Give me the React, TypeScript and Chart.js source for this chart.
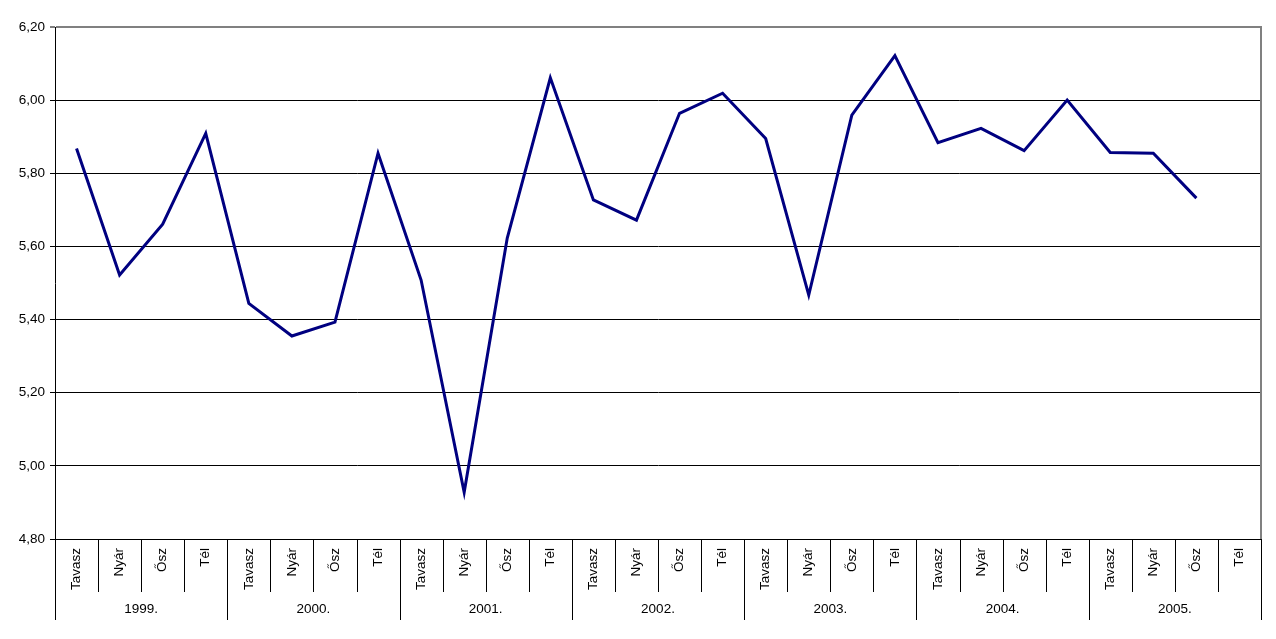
import React, { useEffect, useRef } from "react";
import { Chart, registerables } from "chart.js";

Chart.register(...registerables);

const seasons = ["Tavasz", "Nyár", "Ősz", "Tél"];
const years = ["1999.", "2000.", "2001.", "2002.", "2003.", "2004.", "2005."];
const values: (number | null)[] = [
  5.868, 5.522, 5.661, 5.909,
  5.444, 5.355, 5.393, 5.855,
  5.508, 4.928, 5.623, 6.061,
  5.727, 5.672, 5.964, 6.019,
  5.895, 5.467, 5.959, 6.122,
  5.884, 5.923, 5.862, 6.0,
  5.857, 5.855, 5.732, null,
];
const yMin = 4.8;
const yMax = 6.2;
const yStep = 0.2;

const categories: string[] = [];
years.forEach(() => seasons.forEach((s) => categories.push(s)));

const FONT = "'Liberation Sans', Arial, sans-serif";

const separatorPlugin = {
  id: "separators",
  afterDraw(chart: any) {
    const xs = chart.scales.x;
    const x2 = chart.scales.x2;
    const { ctx, chartArea } = chart;
    const step = xs.getPixelForValue(1) - xs.getPixelForValue(0);
    const start = xs.getPixelForValue(0) - step / 2;
    ctx.save();
    ctx.strokeStyle = "#000";
    ctx.lineWidth = 1;
    for (let i = 0; i <= categories.length; i++) {
      const x = Math.round(start + i * step) + 0.5;
      const long = i % seasons.length === 0;
      ctx.beginPath();
      ctx.moveTo(x, xs.top);
      ctx.lineTo(x, long ? x2.bottom : xs.bottom);
      ctx.stroke();
    }
    ctx.strokeStyle = "#808080";
    ctx.lineWidth = 2;
    const rx = Math.round(chartArea.right);
    ctx.beginPath();
    ctx.moveTo(rx, chartArea.top - 1);
    ctx.lineTo(rx, chartArea.bottom);
    ctx.stroke();
    ctx.restore();
  },
};

export default function App() {
  const ref = useRef<HTMLCanvasElement | null>(null);
  useEffect(() => {
    document.body.style.margin = "0";
    if (!ref.current) return;
    const chart = new Chart(ref.current, {
      type: "line",
      data: {
        labels: categories,
        datasets: [
          {
            data: values,
            borderColor: "#000080",
            borderWidth: 3,
            pointRadius: 0,
            tension: 0,
            fill: false,
          },
        ],
      },
      options: {
        animation: false,
        responsive: false,
        events: [],
        layout: { padding: { left: 0, top: 27, right: 15, bottom: 19 } },
        plugins: { legend: { display: false }, tooltip: { enabled: false } },
        scales: {
          y: {
            min: yMin,
            max: yMax,
            afterFit: (s: any) => {
              s.width = 55;
            },
            ticks: {
              stepSize: yStep,
              padding: 5,
              color: "#000",
              font: { family: FONT, size: 13.5 },
              callback: (v: any) => Number(v).toFixed(2).replace(".", ","),
            },
            grid: {
              color: (c: any) =>
                c.tick && Math.abs(c.tick.value - yMax) < 1e-6 ? "#808080" : "#000",
              lineWidth: (c: any) =>
                c.tick && Math.abs(c.tick.value - yMax) < 1e-6 ? 2 : 1,
              tickColor: "#000",
              tickLength: 5,
              tickWidth: 1,
            },
            border: { display: true, color: "#000", width: 1 },
          },
          x: {
            type: "category",
            offset: true,
            weight: 0,
            afterFit: (s: any) => {
              s.height = 53;
            },
            grid: { display: false, drawTicks: false },
            border: { display: true, color: "#000", width: 1 },
            ticks: {
              autoSkip: false,
              minRotation: 90,
              maxRotation: 90,
              padding: 9,
              color: "#000",
              font: { family: FONT, size: 13.5 },
            },
          },
          x2: {
            type: "category",
            labels: years,
            offset: true,
            position: "bottom",
            weight: 1,
            afterFit: (s: any) => {
              s.height = 28;
            },
            grid: { display: false, drawTicks: false },
            border: { display: false },
            ticks: {
              autoSkip: false,
              maxRotation: 0,
              padding: 9,
              color: "#000",
              font: { family: FONT, size: 13.5 },
            },
          },
        },
      },
      plugins: [separatorPlugin],
    });
    return () => chart.destroy();
  }, []);
  return (
    <div style={{ position: "fixed", left: 0, top: 0, width: 1276, height: 639, background: "#fff" }}>
      <canvas ref={ref} width={1276} height={639} />
    </div>
  );
}
